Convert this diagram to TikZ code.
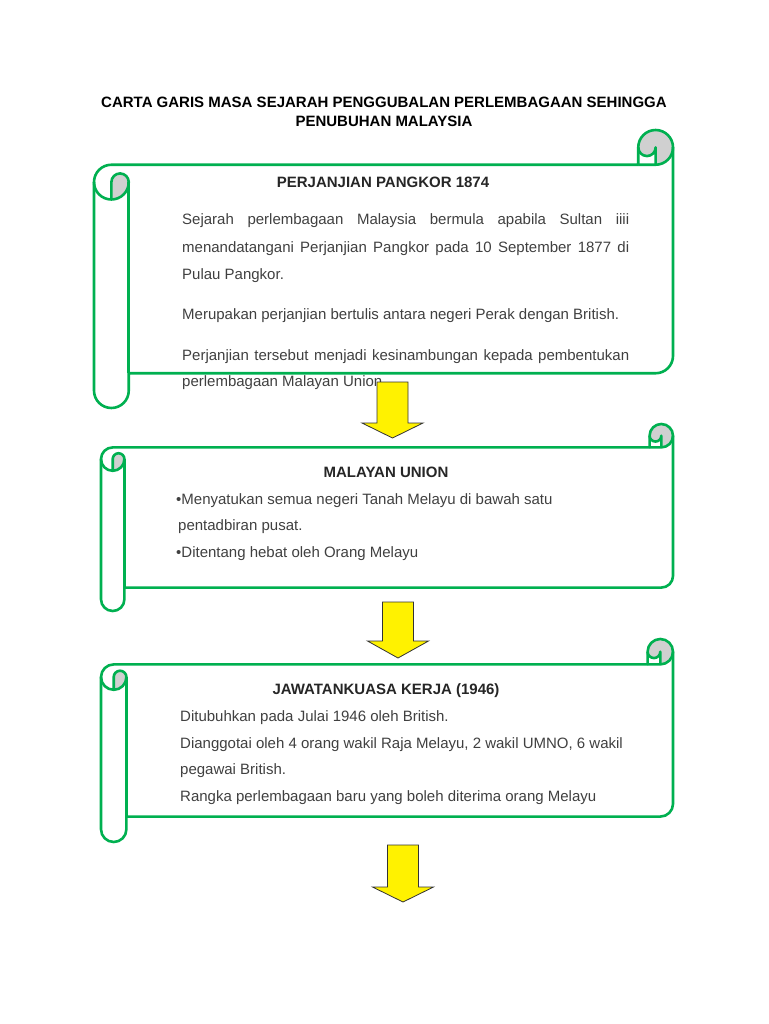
\documentclass[tikz,border=0pt]{standalone}
\usepackage{fontspec}
\setmainfont{Liberation Sans}
\usepackage{tikz}
\definecolor{scrollgreen}{RGB}{0,176,80}
\definecolor{rollgray}{RGB}{208,208,208}
\tikzset{scrollline/.style={draw=scrollgreen, line width=2.6pt, line join=round}}
\tikzset{rollshade/.style={fill=rollgray}}
\tikzset{blockarrow/.style={draw=black!80, fill=yellow, line width=0.8pt, line join=miter}}
\tikzset{titletext/.style={anchor=base, inner sep=0pt, text=black, font=\fontsize{15}{18}\selectfont\bfseries}}
\tikzset{headtext/.style={anchor=base, inner sep=0pt, text=black!85, font=\fontsize{15}{18}\selectfont\bfseries}}
\tikzset{bodytext/.style={anchor=base west, inner sep=0pt, text=black!75, font=\fontsize{15}{18}\selectfont}}

% horizontal scroll: left, top, right, bottom, curl size
\newcommand{\hscroll}[5]{%
\pgfmathsetmacro{\sch}{#5/2}
\pgfmathsetmacro{\scq}{#5/4}
\pgfmathsetmacro{\sxa}{#1+#5/2}
\pgfmathsetmacro{\sxb}{#1+#5}
\pgfmathsetmacro{\sxc}{#3-#5}
\pgfmathsetmacro{\sxd}{#3-#5/2}
\pgfmathsetmacro{\sya}{#2+#5/2}
\pgfmathsetmacro{\syb}{#2+#5}
\pgfmathsetmacro{\syc}{#2+1.5*#5}
\pgfmathsetmacro{\syd}{#2+2*#5}
\pgfmathsetmacro{\sye}{#4-1.5*#5}
\pgfmathsetmacro{\syf}{#4-#5}
\pgfmathsetmacro{\syg}{#4-#5/2}
\fill[rollshade] (\sxa,\syd) arc[start angle=90,delta angle=-90,radius=\sch] arc[start angle=0,delta angle=-180,radius=\scq] -- cycle;
\fill[rollshade] (\sxd,\syb) arc[start angle=90,delta angle=-270,radius=\sch] arc[start angle=180,delta angle=-180,radius=\scq] -- cycle;
\draw[scrollline] (#1,\syc) arc[start angle=180,delta angle=90,radius=\sch] -- (\sxc,\syb) -- (\sxc,\sya) arc[start angle=180,delta angle=180,radius=\sch] -- (#3,\sye) arc[start angle=0,delta angle=90,radius=\sch] -- (\sxb,\syf) -- (\sxb,\syg) arc[start angle=0,delta angle=180,radius=\sch] -- cycle;
\draw[scrollline] (\sxc,\syb) -- (\sxd,\syb) arc[start angle=90,delta angle=-90,radius=\sch];
\draw[scrollline] (\sxd,\syb) -- (\sxd,\sya) arc[start angle=0,delta angle=180,radius=\scq];
\draw[scrollline] (\sxa,\syd) -- (\sxa,\syc) arc[start angle=180,delta angle=180,radius=\scq] arc[start angle=0,delta angle=180,radius=\sch];
\draw[scrollline] (\sxb,\syc) -- (\sxb,\syf);
}

% block arrow pointing down: centre x, top, head base, tip
\newcommand{\downblock}[4]{%
\draw[blockarrow] ({#1-15.5},#2) -- ({#1+15.5},#2) -- ({#1+15.5},#3) -- ({#1+30.5},#3) -- (#1,#4) -- ({#1-30.5},#3) -- ({#1-15.5},#3) -- cycle;
}

\begin{document}
\begin{tikzpicture}[x=1pt,y=-1pt]

\fill[white] (0,0) rectangle (768,1024);
\useasboundingbox (0,0) rectangle (768,1024);

\node[titletext] (title1) at (384,108) {CARTA GARIS MASA SEJARAH PENGGUBALAN PERLEMBAGAAN SEHINGGA};
\node[titletext] (title2) at (384,127) {PENUBUHAN MALAYSIA};

\hscroll{94}{130}{673}{408}{34.75}
\hscroll{101}{424}{673}{611}{23.4}
\hscroll{101}{639}{673}{842}{25.4}

% Perjanjian Pangkor
\node[headtext] (pangkor) at (383,188) {PERJANJIAN PANGKOR 1874};
\node[bodytext] (p1a) at (182,225) {\makebox[447pt][s]{Sejarah perlembagaan Malaysia bermula apabila Sultan iiii}};
\node[bodytext] (p1b) at (182,252) {\makebox[447pt][s]{menandatangani Perjanjian Pangkor pada 10 September 1877 di}};
\node[bodytext] (p1c) at (182,279) {Pulau Pangkor.};
\node[bodytext] (p2) at (182,319) {Merupakan perjanjian bertulis antara negeri Perak dengan British.};
\node[bodytext] (p3a) at (182,360) {\makebox[447pt][s]{Perjanjian tersebut menjadi kesinambungan kepada pembentukan}};
\node[bodytext] (p3b) at (182,386) {perlembagaan Malayan Union.};

% Malayan Union
\node[headtext] (union) at (386,477) {MALAYAN UNION};
\node[bodytext] (u1a) at (176,504) {•Menyatukan semua negeri Tanah Melayu di bawah satu};
\node[bodytext] (u1b) at (178,530) {pentadbiran pusat.};
\node[bodytext] (u2) at (176,557) {•Ditentang hebat oleh Orang Melayu};

% Jawatankuasa Kerja
\node[headtext] (kerja) at (386,694) {JAWATANKUASA KERJA (1946)};
\node[bodytext] (k1) at (180,721) {Ditubuhkan pada Julai 1946 oleh British.};
\node[bodytext] (k2a) at (180,748) {Dianggotai oleh 4 orang wakil Raja Melayu, 2 wakil UMNO, 6 wakil};
\node[bodytext] (k2b) at (180,774) {pegawai British.};
\node[bodytext] (k3) at (180,801) {Rangka perlembagaan baru yang boleh diterima orang Melayu};

\downblock{392.5}{382}{423}{438}
\downblock{398}{602}{641}{658}
\downblock{403}{845}{887}{902}

\end{tikzpicture}
\end{document}
